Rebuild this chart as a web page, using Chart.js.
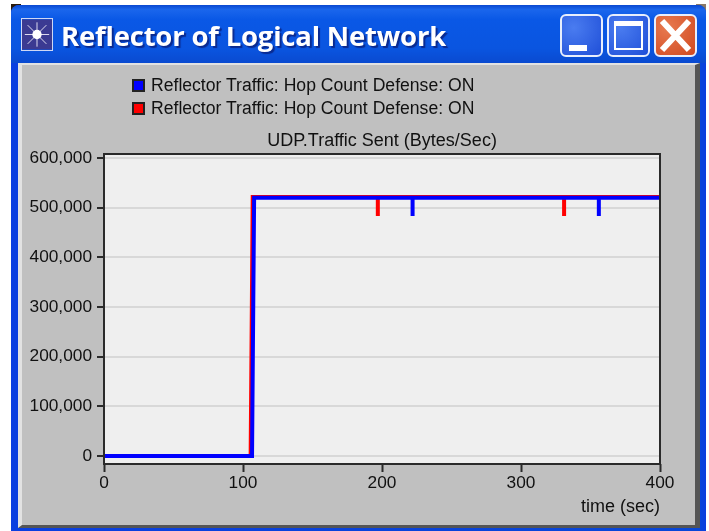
<!DOCTYPE html>
<html><head><meta charset="utf-8">
<script src="https://cdn.jsdelivr.net/npm/chart.js@4"></script>
<style>
html,body{margin:0;padding:0;background:#fff;width:709px;height:531px;overflow:hidden}
#cor{position:absolute;left:11px;top:4px;width:695px;height:14px;background:linear-gradient(to right,#2a1a0a 0,#2a1a0a 10px,transparent 10px,transparent 685px,#8a7a68 685px)}
#win{position:absolute;left:11px;top:5px;width:695px;height:526px;border-radius:8px 8px 0 0;
 background:linear-gradient(to right,#0a3fe0 0,#0a3fe0 6px,#0847d8 688px,#0a3fe0 695px)}
#bar{position:absolute;left:0;top:0;width:695px;height:58px;border-radius:8px 8px 0 0;
 background:linear-gradient(to bottom,#0a48d0 0,#1a66ec 8%,#0a58e6 25%,#0a55e0 75%,#0a4ad0 100%)}
#ttl{position:absolute;left:50px;top:12px;font:bold 27.5px "Open Sans","Liberation Sans",sans-serif;color:#fff;
 text-shadow:2px 2px 1px #0a2a90;white-space:nowrap;letter-spacing:-.2px;line-height:38px}
#ico{position:absolute;left:10px;top:13px;width:32px;height:33px;border:1px solid #cfd8f5;box-sizing:border-box}
.b{position:absolute;top:9px;width:43px;height:43px;box-sizing:border-box;border:2px solid #e8eefc;border-radius:6px;
 background:radial-gradient(circle at 30% 30%,#4a7cf0,#1f4fd8)}
#pan{position:absolute;left:7px;top:58px;width:682px;height:465px;box-sizing:border-box;background:#c0c0c0;
 border-left:4px solid #e2e2e2;border-top:2px solid #e2e2e2;border-right:5px solid #555;border-bottom:3px solid #555}
#c{position:absolute;left:0;top:0}
#leg{position:absolute;left:132px;top:74px;font:17.6px "Liberation Sans",Arial,sans-serif;color:#111}
#leg div{height:23px;line-height:23px;white-space:nowrap;display:flex;align-items:center}
#leg i{display:inline-block;width:13px;height:13px;box-sizing:border-box;border:2px solid #222;margin-right:6px}
#win,#c,#leg{filter:blur(.45px)}
</style></head>
<body>
<div id="cor"></div>
<div id="win">
 <div id="bar"></div>
 <svg id="ico" viewBox="0 0 32 32"><rect width="32" height="32" fill="#3b3a92"/>
  <g stroke="#e8e4f4" stroke-width="1"><line x1="16" y1="3" x2="16" y2="29"/><line x1="3" y1="16" x2="29" y2="16"/><line x1="6" y1="6" x2="26" y2="26"/><line x1="26" y1="6" x2="6" y2="26"/></g>
  <circle cx="16" cy="16" r="5" fill="#fff"/></svg>
 <div id="ttl">Reflector of Logical Network</div>
 <div class="b" style="left:549px"><div style="position:absolute;left:7px;bottom:4px;width:18px;height:6px;background:#fff"></div></div>
 <div class="b" style="left:596px"><div style="position:absolute;left:5px;top:5px;width:29px;height:29px;box-sizing:border-box;border:2px solid #fff;border-top-width:5px"></div></div>
 <div class="b" style="left:643px;background:radial-gradient(circle at 30% 30%,#e87a50,#d0481f)">
  <svg width="39" height="39" style="position:absolute;left:0;top:0"><path d="M6 5 L33 34 M33 5 L6 34" stroke="#fff" stroke-width="6"/></svg></div>
 <div id="pan"></div>
</div>
<canvas id="c" width="709" height="531"></canvas>
<div id="leg"></div>
<script>
const seriesNames = ["Reflector Traffic: Hop Count Defense: ON", "Reflector Traffic: Hop Count Defense: ON"];
const seriesColors = ["#0000ff", "#ff0000"];
const chartTitle = "UDP.Traffic Sent (Bytes/Sec)";
const xAxisLabel = "time (sec)";
const yTickValues = [0, 100000, 200000, 300000, 400000, 500000, 600000];
const xTickValues = [0, 100, 200, 300, 400];
const blueTime = [0, 106.5, 108, 222, 222, 222, 356, 356, 356, 400];
const blueBytes = [0, 0, 520000, 520000, 483000, 520000, 520000, 483000, 520000, 520000];
const redTime = [0, 105.5, 107, 197, 197, 197, 331, 331, 331, 400];
const redBytes = [0, 0, 521500, 521500, 483000, 521500, 521500, 483000, 521500, 521500];

const toPts = (xs, ys) => xs.map((x, i) => ({x, y: ys[i]}));
document.getElementById('leg').innerHTML = seriesNames.map((n, i) =>
  `<div><i style="background:${seriesColors[i]}"></i>${n}</div>`).join('');

const plotFrame = {
  id: 'plotFrame',
  afterLayout(ch) {
    // centre the title over the plot rather than over plot + y axis
    ch.titleBlock.left = ch.chartArea.left;
    ch.titleBlock.right = ch.chartArea.right;
  },
  beforeDraw(ch) {
    const a = ch.chartArea, g = ch.ctx;
    g.save(); g.fillStyle = '#efefef'; g.fillRect(a.left, a.top, a.width, a.height); g.restore();
  },
  afterDraw(ch) {
    const a = ch.chartArea, g = ch.ctx;
    g.save(); g.strokeStyle = '#2a2a2a'; g.lineWidth = 2;
    g.strokeRect(a.left, a.top, a.width, a.height); g.restore();
  }
};
const font = {family: '"Liberation Sans", Arial, sans-serif', size: 17.3};

new Chart(document.getElementById('c'), {
  type: 'line',
  data: {datasets: [
    {label: seriesNames[0], data: toPts(blueTime, blueBytes), borderColor: seriesColors[0], order: 0},
    {label: seriesNames[1], data: toPts(redTime, redBytes), borderColor: seriesColors[1], order: 1}
  ]},
  options: {
    responsive: false, animation: false,
    layout: {padding: {left: 14, right: 49, top: 130, bottom: 13}},
    elements: {point: {radius: 0}, line: {borderWidth: 4, tension: 0, borderJoinStyle: 'miter'}},
    plugins: {
      legend: {display: false}, tooltip: {enabled: false},
      title: {display: true, text: chartTitle, color: '#111', font: {...font, size: 18, weight: 'normal'}, padding: {top: 0, bottom: 2.4}}
    },
    scales: {
      x: {
        type: 'linear', min: 0, max: 400,
        afterBuildTicks: s => { s.ticks = xTickValues.map(v => ({value: v})); },
        afterFit: s => { s.height = 54; },
        ticks: {color: '#111', font, padding: 1, maxRotation: 0, autoSkip: false},
        grid: {drawOnChartArea: false, tickLength: 8, tickColor: '#2a2a2a', tickWidth: 2},
        border: {display: false},
        title: {display: true, text: xAxisLabel, align: 'end', color: '#111', font: {...font, size: 18}, padding: 0}
      },
      y: {
        min: -16000, max: 608000,
        afterBuildTicks: s => { s.ticks = yTickValues.map(v => ({value: v})); },
        afterFit: s => { s.width = 90; },
        ticks: {color: '#111', font, padding: 5, callback: v => v.toLocaleString('en-US'), autoSkip: false},
        grid: {color: '#d8d8d8', lineWidth: 2, tickLength: 7, tickColor: '#2a2a2a', tickWidth: 2},
        border: {display: false}
      }
    }
  },
  plugins: [plotFrame]
});
</script>
</body></html>
